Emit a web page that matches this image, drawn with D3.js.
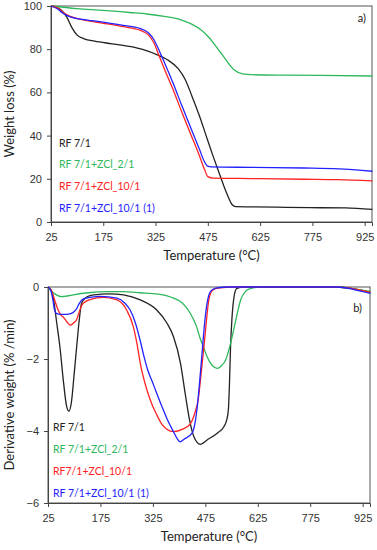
<!DOCTYPE html>
<html>
<head>
<meta charset="utf-8">
<script src="https://cdn.jsdelivr.net/npm/d3@7"></script>
<style>
  body { margin: 0; background: #fff; }
  svg { display: block; font-family: Lato, "Liberation Sans", sans-serif; }
  .tick text { fill: #333; font-size: 11px; }
  .axis path, .axis line { stroke: #444; }
</style>
</head>
<body>
<svg id="chart" width="377" height="550"></svg>
<script>
// temperature ticks shared by both panels
const tempTicks = [25, 175, 325, 475, 625, 775, 925]

// a) weight loss (%) vs temperature, [T, value]
const tgaRF = [[25,100],[40,99.5],[55,98],[70,95],[85,90],[100,86.5],[120,84.8],[150,83.7],[200,82.5],[250,81.3],[290,79.8],[330,77.4],[360,75],[390,71],[410,66],[430,58],[450,49.5],[470,40],[490,30.5],[510,21.5],[530,13],[545,8],[555,7.1],[600,7],[700,6.8],[800,6.6],[870,6.5],[947,5.8]]
const tgaZCl2 = [[25,100],[100,98.8],[175,98],[250,97],[300,96.3],[350,95.2],[400,93.5],[430,91.5],[455,89],[475,86],[500,81],[525,75.5],[550,70.5],[575,68.6],[600,68.2],[700,68],[800,67.9],[947,67.6]]
const tgaZCl10 = [[25,100],[45,99],[60,97],[80,95.2],[100,94.2],[130,93.2],[175,92],[232,90.4],[280,88.8],[305,86.5],[320,83],[335,77],[350,71],[376,61],[400,51],[425,41],[450,31],[465,24.5],[475,21],[490,20.3],[600,20.1],[750,19.8],[850,19.6],[947,19]]
const tgaZCl10b = [[25,100],[45,98.5],[60,96.5],[80,95],[100,94.2],[130,93.5],[175,92.5],[232,91],[280,89.6],[305,87.5],[320,84.5],[335,79.5],[350,74],[376,64],[400,54],[425,44],[450,34],[465,28],[473,26],[485,25.5],[600,25.3],[750,25],[850,24.6],[947,23.5]]

// b) derivative weight (%/min) vs temperature, [T, value]
const dtgRF = [[25,0],[32,-0.05],[40,-0.3],[50,-1.0],[59,-1.66],[70,-2.7],[78,-3.3],[85,-3.45],[92,-3.2],[100,-2.4],[107,-1.66],[114,-0.95],[121,-0.45],[133,-0.3],[145,-0.24],[175,-0.2],[200,-0.19],[241,-0.22],[289,-0.36],[336,-0.64],[365,-1.0],[384,-1.38],[404,-2.12],[418,-3.0],[430,-3.7],[442,-4.15],[461,-4.37],[480,-4.25],[509,-4.06],[528,-3.88],[536,-3.7],[541,-3.4],[544,-2.7],[547,-1.7],[551,-0.9],[556,-0.35],[564,-0.05],[580,0],[850,0],[900,-0.05],[947,-0.15]]
const dtgZCl2 = [[25,0],[35,-0.12],[49,-0.22],[63,-0.27],[80,-0.25],[97,-0.22],[140,-0.16],[193,-0.13],[240,-0.13],[289,-0.16],[340,-0.2],[384,-0.31],[410,-0.45],[432,-0.73],[450,-1.1],[461,-1.45],[471,-1.7],[480,-1.94],[495,-2.18],[509,-2.26],[520,-2.2],[533,-2.03],[545,-1.65],[556,-1.19],[566,-0.75],[576,-0.36],[590,-0.12],[605,-0.04],[630,0],[850,0],[900,-0.05],[947,-0.12]]
const dtgZCl10 = [[25,0],[35,-0.1],[44,-0.36],[54,-0.64],[62,-0.78],[70,-0.85],[80,-0.98],[89,-1.06],[98,-1.0],[107,-0.9],[114,-0.7],[121,-0.52],[133,-0.4],[145,-0.35],[183,-0.29],[222,-0.36],[250,-0.64],[269,-1.1],[280,-1.6],[289,-2.12],[308,-2.86],[322,-3.25],[336,-3.55],[350,-3.8],[365,-3.95],[384,-4.02],[410,-3.95],[432,-3.8],[445,-3.5],[455,-3.1],[463,-2.4],[471,-1.66],[478,-0.95],[485,-0.36],[495,-0.1],[510,-0.03],[560,0],[850,0],[900,-0.05],[947,-0.15]]
const dtgZCl10b = [[25,0],[33,-0.1],[39,-0.36],[44,-0.65],[50,-0.74],[60,-0.76],[78,-0.76],[90,-0.74],[100,-0.68],[107,-0.6],[115,-0.45],[126,-0.33],[150,-0.28],[174,-0.26],[222,-0.31],[245,-0.45],[260,-0.64],[275,-1.0],[289,-1.5],[300,-1.95],[310,-2.3],[322,-2.6],[336,-2.95],[350,-3.3],[365,-3.65],[384,-4.02],[395,-4.22],[403,-4.3],[415,-4.22],[437,-4.06],[445,-3.8],[452,-3.32],[459,-2.6],[466,-1.8],[473,-1.0],[480,-0.45],[490,-0.12],[505,-0.03],[540,0],[850,0],[900,-0.07],[947,-0.18]]

const black = "#222222", green = "#2eb85c", red = "#ff2222", blue = "#2222ff"

const svg = d3.select("#chart")

function panel(opts) {
    const x = d3.scaleLinear().domain([25, 946]).range([opts.left, opts.right])
    const y = d3.scaleLinear().domain(opts.yDomain).range([opts.bottom, opts.top])

    const g = svg.append("g")

    // frame
    g.append("rect")
        .attr("x", opts.left).attr("y", opts.top)
        .attr("width", opts.right - opts.left).attr("height", opts.bottom - opts.top)
        .attr("fill", "none").attr("stroke", "#555").attr("stroke-width", 1)

    g.append("g").attr("class", "axis")
        .attr("transform", "translate(0," + opts.bottom + ")")
        .call(d3.axisBottom(x).tickValues(tempTicks).tickSizeOuter(0).tickSize(4).tickPadding(7))

    g.append("g").attr("class", "axis")
        .attr("transform", "translate(" + opts.left + ",0)")
        .call(d3.axisLeft(y).tickValues(opts.yTicks).tickFormat(d3.format("d")).tickSizeOuter(0).tickSize(4).tickPadding(5))

    g.selectAll(".axis .domain").attr("stroke", "#444")

    const line = d3.line()
        .x(d => x(d[0]))
        .y(d => y(d[1]))
        .curve(d3.curveMonotoneX)

    opts.series.forEach(s => {
        g.append("path")
            .datum(s.data)
            .attr("fill", "none")
            .attr("stroke", s.color)
            .attr("stroke-width", 1.3)
            .attr("d", line)
    })

    // legend
    opts.series.forEach((s, i) => {
        g.append("text")
            .attr("x", opts.legendX)
            .attr("y", opts.legendY + i * opts.legendStep)
            .attr("dy", "0.35em")
            .attr("fill", s.color)
            .style("font-size", "10.5px")
            .text(s.label)
    })

    // panel tag
    g.append("text")
        .attr("x", opts.tagX).attr("y", opts.tagY)
        .attr("dy", "0.35em")
        .attr("text-anchor", "end")
        .attr("fill", "#222")
        .style("font-size", "11px")
        .text(opts.tag)

    // axis titles
    g.append("text")
        .attr("x", (opts.left + opts.right) / 2)
        .attr("y", opts.bottom + 38)
        .attr("text-anchor", "middle")
        .attr("fill", "#222")
        .style("font-size", "13px")
        .text("Temperature (°C)")

    g.append("text")
        .attr("transform", "translate(" + 14 + "," + (opts.top + opts.bottom) / 2 + ") rotate(-90)")
        .attr("text-anchor", "middle")
        .attr("fill", "#222")
        .style("font-size", "13px")
        .text(opts.yTitle)
}

panel({
    left: 51, right: 372, top: 6, bottom: 222,
    yDomain: [0, 100], yTicks: [0, 20, 40, 60, 80, 100],
    yTitle: "Weight loss (%)",
    tag: "a)", tagX: 366, tagY: 18,
    legendX: 59, legendY: 143, legendStep: 21.8,
    series: [
        { label: "RF 7/1", color: black, data: tgaRF },
        { label: "RF 7/1+ZCl_2/1", color: green, data: tgaZCl2 },
        { label: "RF 7/1+ZCl_10/1", color: red, data: tgaZCl10 },
        { label: "RF 7/1+ZCl_10/1 (1)", color: blue, data: tgaZCl10b }
    ]
})

panel({
    left: 48, right: 370, top: 287, bottom: 503,
    yDomain: [-6, 0], yTicks: [-6, -4, -2, 0],
    yTitle: "Derivative weight (% /min)",
    tag: "b)", tagX: 362, tagY: 308,
    legendX: 53, legendY: 427, legendStep: 22.2,
    series: [
        { label: "RF 7/1", color: black, data: dtgRF },
        { label: "RF 7/1+ZCl_2/1", color: green, data: dtgZCl2 },
        { label: "RF7/1+ZCl_10/1", color: red, data: dtgZCl10 },
        { label: "RF 7/1+ZCl_10/1 (1)", color: blue, data: dtgZCl10b }
    ]
})
</script>
</body>
</html>
